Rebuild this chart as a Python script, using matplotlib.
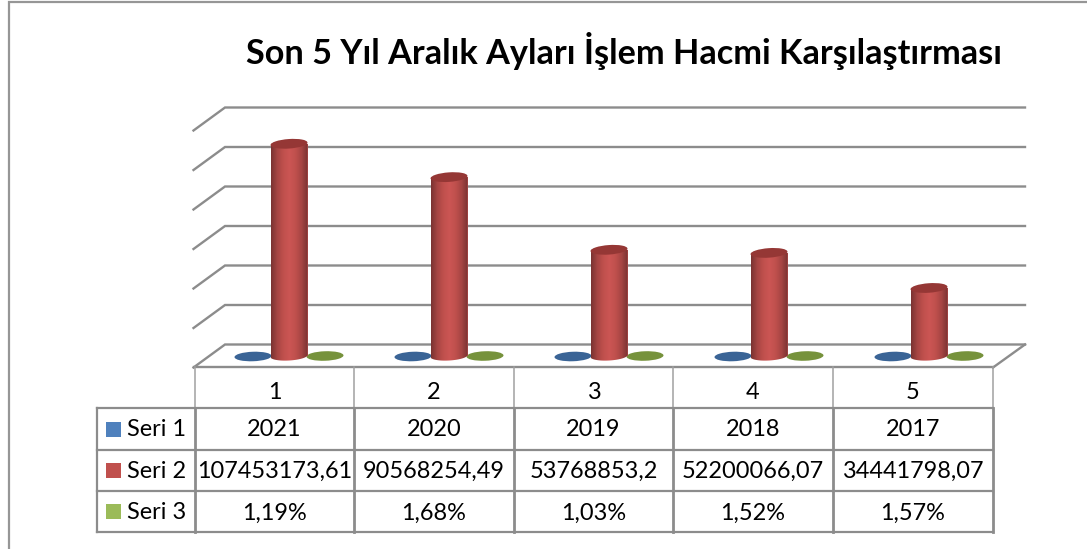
import numpy as np
import matplotlib
matplotlib.use("Agg")
import matplotlib.pyplot as plt
from matplotlib.patches import Ellipse, Polygon, Rectangle
from matplotlib.colors import LinearSegmentedColormap

title = "Son 5 Yıl Aralık Ayları İşlem Hacmi Karşılaştırması"
categories = [1, 2, 3, 4, 5]
series_names = ["Seri 1", "Seri 2", "Seri 3"]
seri1 = [2021, 2020, 2019, 2018, 2017]
seri2 = [107453173.61, 90568254.49, 53768853.2, 52200066.07, 34441798.07]
seri3 = [1.19, 1.68, 1.03, 1.52, 1.57]
grid_values = [0, 20e6, 40e6, 60e6, 80e6, 100e6, 120e6]

W, H = 1087, 549
plt.rcParams['font.family'] = ['Lato', 'DejaVu Sans']
fig = plt.figure(figsize=(W / 100, H / 100), dpi=100, facecolor='white')
GRAY = '#8c8c8c'
BLUE, RED, GREEN = '#4f81bd', '#c0504d', '#9bbb59'

# pixel-space layer for the chart frame and table
chrome = fig.add_axes([0, 0, 1, 1], zorder=1)
chrome.set_xlim(0, W); chrome.set_ylim(H, 0); chrome.axis('off')

# data layer: pixel x 209..1009 for categories 0.5..5.5, pixel y 356 .. 119 for 0..120M
X0, X1, Y0, Y1 = 209, 1009, 356, 119
PAD = 10  # px of room below zero for the round foot of the cylinders
ax = fig.add_axes([X0 / W, 1 - (Y0 + PAD) / H, (X1 - X0) / W, (Y0 + PAD - Y1) / H], zorder=2)
ax.patch.set_alpha(0); ax.axis('off')
YMIN = -PAD * 120e6 / (Y0 - Y1)

def px(x): return X0 + (x - 0.5) * (X1 - X0) / 5
def py(v): return Y0 + v * (Y1 - Y0) / 120e6

# outer frame
chrome.plot([9, 9, W], [H, 2, 2], color='#969696', lw=1.6, solid_joinstyle='miter')

# title
chrome.text(623.5, 51, title, fontsize=24.7, fontweight='bold', ha='center', va='center', color='black')

# gridlines on the walls
BACK = 11.5
for v in grid_values:
    yb = py(v) - BACK
    chrome.plot([193.5, 225, 1025], [yb + 23, yb, yb], color=GRAY, lw=1.7, solid_joinstyle='miter')
yb = py(0) - BACK
chrome.plot([1025, 993], [yb, yb + 23], color=GRAY, lw=1.7)

# table
cols = [195, 354, 514, 673, 833, 993]
rows = [367, 408, 450, 491, 532]
chrome.plot([194, 993], [rows[0]] * 2, color=GRAY, lw=1.7)
for x in cols:
    chrome.plot([x, x], [rows[0], rows[1]], color='#a0a0a0', lw=1.1)
    chrome.plot([x, x], [rows[1], rows[-1]], color=GRAY, lw=2.0)
for y in rows[1:]:
    chrome.plot([97, 993], [y, y], color=GRAY, lw=1.6)
chrome.plot([97, 97], [rows[1], rows[-1]], color=GRAY, lw=1.6)

FS = 16.9
row_text = [
    [str(c) for c in categories],
    [str(v) for v in seri1],
    [str(v).replace('.', ',') for v in seri2],
    [f"{v:.2f}%".replace('.', ',') for v in seri3],
]
row_shift = [5, 1, 1, 2]
for r, labels in enumerate(row_text):
    yc = (rows[r] + rows[r + 1]) / 2 + row_shift[r]
    for c, s in enumerate(labels):
        chrome.text((cols[c] + cols[c + 1]) / 2, yc, s, fontsize=FS, ha='center', va='center', color='black')

for name, col, r in zip(series_names, [BLUE, RED, GREEN], [1, 2, 3]):
    yc = (rows[r] + rows[r + 1]) / 2
    chrome.add_patch(Rectangle((106, yc - 7.5), 15, 15, facecolor=col, edgecolor='none'))
    chrome.text(127, yc + 1, name, fontsize=FS, ha='left', va='center', color='black')

# marks
OFF = 0.225
BW = 37 / 160
EH = 9.5
TILT = -4

for cat, a, c in zip(categories, seri1, seri3):
    # Seri 1 and Seri 3 are far too small on this scale, so they collapse to flat discs
    chrome.add_patch(Ellipse((px(cat - OFF), py(a) + 0.5), 37, 9.5, angle=-2, facecolor='#3a6496', edgecolor='none'))
    chrome.add_patch(Ellipse((px(cat + OFF), py(c)), 37, 9.5, angle=-2, facecolor='#76923c', edgecolor='none'))

cyl = LinearSegmentedColormap.from_list('cyl', ['#7a3332', '#a64543', '#c0504d', '#cb5654', '#c0504d', '#a64543', '#7a3332'])
grad = np.linspace(0, 1, 64).reshape(1, -1)
for cat, v in zip(categories, seri2):
    ax.bar(cat, v, width=BW, color=RED, linewidth=0, zorder=2)
    xl, xr = px(cat) - 18.5, px(cat) + 18.5
    t = np.linspace(0, np.pi, 40)
    bx = px(cat) + 18.5 * np.cos(t)
    by = py(0) + 4.5 * np.sin(t) - 1.0 * np.cos(t)
    verts = np.vstack([[[xr, py(v)]], np.column_stack([bx, by]), [[xl, py(v)]], [[xr, py(v)]]])
    clip = Polygon(verts, closed=True, transform=chrome.transData)
    im = ax.imshow(grad, cmap=cyl, aspect='auto', zorder=3, interpolation='bilinear',
                   extent=(cat - BW / 2, cat + BW / 2, YMIN, v))
    im.set_clip_path(clip)
    top = Ellipse((px(cat), py(v)), 37, EH, angle=TILT, facecolor='#953735', edgecolor='none',
                  transform=chrome.transData, zorder=4, clip_on=False)
    ax.add_patch(top)

ax.set_xlim(0.5, 5.5); ax.set_ylim(YMIN, 120e6)
fig.savefig('out.png', dpi=100, facecolor='white')
